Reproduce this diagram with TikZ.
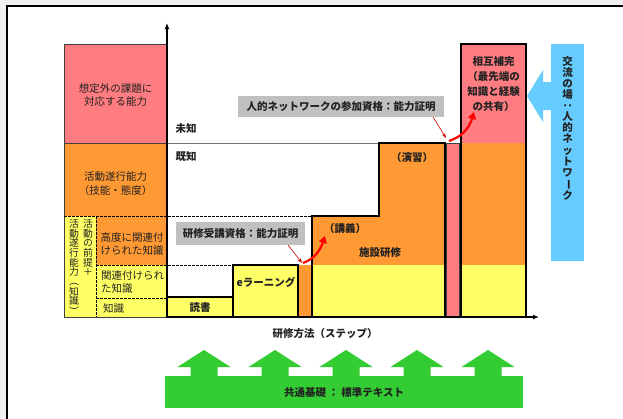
\documentclass[tikz,border=0pt]{standalone}
\usepackage{fontspec}
\setmainfont{Noto Sans CJK JP}
\usetikzlibrary{arrows.meta}
\definecolor{bgc}{HTML}{F0F0F0}
\definecolor{pinkc}{HTML}{FF7C80}
\definecolor{orangec}{HTML}{FF9933}
\definecolor{yellowc}{HTML}{FFFF66}
\definecolor{greenc}{HTML}{33CC33}
\definecolor{bluec}{HTML}{66CCFF}
\definecolor{grayc}{HTML}{C0C0C0}
\definecolor{txt}{HTML}{222222}
\newcommand\vrot[1]{\rotatebox[origin=c]{-90}{#1}}
\begin{document}
\begin{tikzpicture}[x=1pt,y=-1pt,
  txtn/.style={inner sep=0pt, text=txt, font=\fontsize{10.5}{13}\selectfont, align=center},
  bld/.style={inner sep=0pt, text=txt, font=\fontsize{10.5}{13}\selectfont\bfseries, align=center},
  boxline/.style={draw=black, line width=1.3pt},
  thinbox/.style={draw=black!75, line width=0.6pt},
  dline/.style={line width=0.8pt, dash pattern=on 2.5pt off 1.5pt},
  redthin/.style={draw=red!80!black, line width=0.6pt, -{Stealth[length=5pt,width=3.5pt]}},
  redthick/.style={draw=red, line width=2.2pt, -{Triangle[length=7pt,width=8pt]}},
  axis/.style={line width=1.6pt, -{Latex[length=6pt,width=5pt]}}
]
\useasboundingbox (0,0) rectangle (623,418);
\clip (0,0) rectangle (623,418);
\fill[bgc] (0,0) rectangle (623,418);
\draw[fill=white, line width=1.8pt] (7,6) rectangle (640,440);

% left column
\draw[thinbox, fill=pinkc] (64,44) rectangle (167,143);
\draw[thinbox, fill=orangec] (64,143) rectangle (167,216);
\fill[yellowc] (64,216) rectangle (96,317);
\fill[orangec] (96,216) rectangle (167,265);
\fill[yellowc] (96,265) rectangle (167,317);
\draw[thinbox] (64,216) -- (64,317) -- (167,317);
\draw[dline] (64,216) -- (312,216);
\draw[dline] (96,216) -- (96,317);
\draw[dline] (96,265) -- (233,265);
\draw[dline] (96,298) -- (167,298);

% known / unknown boundary
\draw[black!55, line width=1pt] (167,143) -- (445,143);

% steps
\draw[boxline, fill=yellowc] (167,297) rectangle (233,317);
\draw[boxline, fill=yellowc] (233,265) rectangle (298,317);
\fill[orangec] (299,265) rectangle (311,317);
\fill[orangec] (312,317) -- (312,216) -- (379,216) -- (379,143) -- (445,143) -- (445,317) -- cycle;
\fill[yellowc] (312,265) rectangle (445,317);
\draw[boxline] (312,317) -- (312,216) -- (379,216) -- (379,143) -- (445,143) -- (445,317);
\draw[thinbox, fill=pinkc] (446,143) rectangle (459,317);
\fill[pinkc] (461,44) rectangle (526,143);
\fill[orangec] (461,143) rectangle (526,265);
\fill[yellowc] (461,265) rectangle (526,317);
\draw[boxline] (461,44) rectangle (526,317);

% axes
\coordinate (o) at (167,318);
\coordinate (ytop) at (167,23);
\coordinate (o2) at (166,317);
\coordinate (xend) at (539,317);
\draw[axis] (o) -- (ytop);
\draw[axis] (o2) -- (xend);

% blue arrow
\fill[bluec] (551,44) rectangle (584,261);
\fill[bluec] (552,82) -- (543,82) -- (543,70) -- (527,96) -- (543,122) -- (543,110) -- (552,110) -- cycle;

% green base
\fill[greenc] (165,376) rectangle (523,408);
\foreach \c in {204,275,346,417,488}
  \fill[greenc] (\c-13.5,377) -- (\c-13.5,367) -- (\c-26.5,367) -- (\c,350) -- (\c+26.5,367) -- (\c+13.5,367) -- (\c+13.5,377) -- cycle;

% texts
\node[txtn] (n1) at (115.5,95) {想定外の課題に\\対応する能力};
\node[txtn, font=\fontsize{10.5}{14}\selectfont] (n2) at (115.5,184) {活動遂行能力\\（技能・態度）};
\node[txtn] (n3) at (132,244) {高度に関連付\\けられた知識};
\node[txtn, align=left, anchor=west] (n4) at (101,282) {関連付けられ\\た知識};
\node[txtn, anchor=west] (n5) at (103,309) {知識};
\node[txtn, font=\fontsize{9.8}{9.7}\selectfont, anchor=north] (v1) at (88,219) {活\\動\\の\\前\\提\\＋};
\node[txtn, font=\fontsize{9.8}{9.7}\selectfont, anchor=north] (v2) at (74,219) {活\\動\\遂\\行\\能\\力\\\vrot{（}\\知\\識\\\vrot{）}};

\node[bld] (t1) at (186,129) {未知};
\node[bld] (t2) at (186,157) {既知};
\node[bld] (t3) at (200,308) {読書};
\node[bld] (t4) at (266,282) {eラーニング};
\node[bld] (t5) at (345,229) {（講義）};
\node[bld] (t6) at (380,253) {施設研修};
\node[bld] (t7) at (412,158) {（演習）};
\node[bld, font=\fontsize{10.5}{14.7}\selectfont\bfseries] (t8) at (493.5,84) {相互補完\\（最先端の\\知識と経験\\の共有）};
\node[bld, font=\fontsize{10.5}{11.1}\selectfont\bfseries, anchor=north] (t9) at (567.5,56) {交\\流\\の\\場\\\vrot{：}\\人\\的\\ネ\\ッ\\ト\\ワ\\\vrot{ー}\\ク};
\node[bld] (t10) at (325,333) {研修方法（ステップ）};
\node[bld] (t11) at (344,392) {共通基礎 ： 標準テキスト};

% labels
\node[bld, fill=grayc, minimum width=206pt, minimum height=21pt] (lab1) at (341,106.5) {人的ネットワークの参加資格：能力証明};
\node[bld, fill=grayc, minimum width=129pt, minimum height=23pt] (lab2) at (240.5,233.5) {研修受講資格：能力証明};

% red arrows
\coordinate (e1) at (446,138);
\coordinate (e2) at (302,263);
\draw[redthin] ([xshift=-11pt]lab1.south east) -- (e1);
\draw[redthin] ([xshift=-17pt]lab2.south east) -- (e2);
\coordinate (s1) at (449,141);
\coordinate (h1) at (474,112);
\coordinate (s2) at (303,263);
\coordinate (h2) at (325,236);
\draw[redthick] (s1) .. controls (461,137) and (469,129) .. (h1);
\draw[redthick] (s2) .. controls (314,259) and (320,251) .. (h2);
\end{tikzpicture}
\end{document}
